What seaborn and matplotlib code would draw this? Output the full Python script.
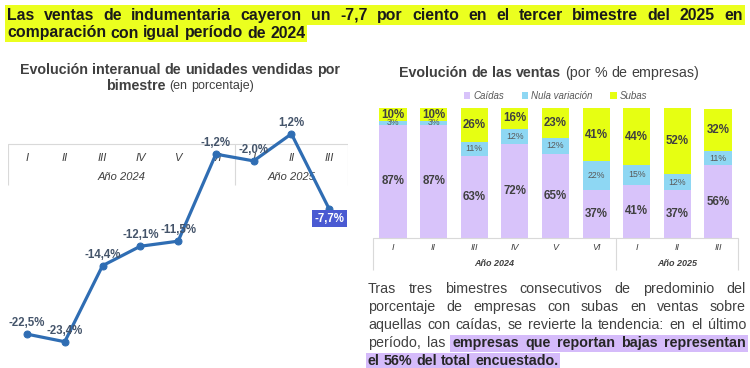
import matplotlib
matplotlib.use("Agg")
import pandas as pd
import matplotlib.pyplot as plt
from matplotlib import font_manager
from matplotlib.patches import Rectangle
import seaborn as sns

# ---- data -------------------------------------------------------------
bimestres = ["I", "II", "III", "IV", "V", "VI", "I", "II", "III"]
anios = ["2024"] * 6 + ["2025"] * 3
var_unidades = [-22.5, -23.4, -14.4, -12.1, -11.5, -1.2, -2.0, 1.2, -7.7]

caidas = [87, 87, 63, 72, 65, 37, 41, 37, 56]
nula = [3, 3, 11, 12, 12, 22, 15, 12, 11]
subas = [10, 10, 26, 16, 23, 41, 44, 52, 32]

titulo_l1 = "Las ventas de indumentaria cayeron un -7,7 por ciento en el tercer bimestre del 2025 en"
titulo_l2 = "comparación con igual período de 2024"
parrafo = [
    ("Tras tres bimestres consecutivos de predominio del", ""),
    ("porcentaje de empresas con subas en ventas sobre", ""),
    ("aquellas con caídas, se revierte la tendencia: en el último", ""),
    ("período, las", "empresas que reportan bajas representan"),
    ("", "el 56% del total encuestado."),
]

# ---- style ------------------------------------------------------------
W, H = 750, 368
LINE_C = "#2F6DB3"
LAB_C = "#44546A"
TXT_C = "#404040"
C_CAI = "#D8C3FA"
C_NUL = "#8ED7F3"
C_SUB = "#E6FF12"
HL_Y = "#EBFF1F"
HL_P = "#D5BBFA"


def installed(fam):
    try:
        font_manager.findfont(font_manager.FontProperties(family=fam), fallback_to_default=False)
        return True
    except ValueError:
        return False


REG = "Liberation Sans"
NARROW = "Liberation Sans Narrow" if installed("Liberation Sans Narrow") else REG
NAR = [NARROW, "DejaVu Sans"]
sns.set_theme(style="white")
plt.rcParams["font.family"] = [REG, "DejaVu Sans"]

fig = plt.figure(figsize=(W / 100, H / 100), dpi=100)
renderer = fig.canvas.get_renderer()


def width_px(s, **kw):
    t = fig.text(0, 0, s, **kw)
    w = t.get_window_extent(renderer).width
    t.remove()
    return w


def draw_words(tokens, y, x0, x1=None, align="left"):
    """tokens: list of (word, text kwargs); returns (start, end) px of each word"""
    ws = [width_px(w, **kw) for w, kw in tokens]
    kw0 = tokens[0][1]
    gap = width_px("a a", **kw0) - width_px("aa", **kw0)
    if align == "justify" and len(ws) > 1:
        gap = (x1 - x0 - sum(ws)) / (len(ws) - 1)
    total = sum(ws) + gap * (len(ws) - 1)
    x = x0 - total / 2 if align == "center" else x0
    spans = []
    for (w, kw), wd in zip(tokens, ws):
        fig.text(x / W, 1 - y / H, w, ha="left", va="center", **kw)
        spans.append((x, x + wd))
        x += wd + gap
    return spans


def box(x0, x1, y0, y1, color):
    fig.add_artist(Rectangle((x0 / W, 1 - y1 / H), (x1 - x0) / W, (y1 - y0) / H,
                             transform=fig.transFigure, color=color, zorder=0.5, lw=0))


# ---- headline ---------------------------------------------------------
tkw = dict(fontweight="bold", color="#1a1a1a", family=NAR)
fs_t = 10 * 297 / width_px(titulo_l2, fontsize=10, **tkw)
tkw["fontsize"] = fs_t
box(5, 745, 5, 25, HL_Y)
draw_words([(w, tkw) for w in titulo_l1.split()], 15.5, 7, 743, align="justify")
sp = draw_words([(w, tkw) for w in titulo_l2.split()], 33, 7)
box(5, sp[-1][1] + 2, 25, 42, HL_Y)

# ---- left chart titles ------------------------------------------------
hb = dict(fontweight="bold", color=TXT_C, fontsize=10.3)
hr = dict(color=TXT_C, fontsize=9)
draw_words([(w, hb) for w in "Evolución interanual de unidades vendidas por".split()], 70, 180, align="center")
draw_words([("bimestre", hb), ("(en", hr), ("porcentaje)", hr)], 86, 180, align="center")

# ---- line chart -------------------------------------------------------
PX_UNIT = 8.45  # pixels per percentage point
ZERO_Y = 144
top_px, bot_px = 120, 350
ax1 = fig.add_axes([8.1 / W, 1 - bot_px / H, 340 / W, (bot_px - top_px) / H])
df_line = pd.DataFrame({"pos": range(len(var_unidades)), "valor": var_unidades})
sns.lineplot(data=df_line, x="pos", y="valor", ax=ax1, color=LINE_C, lw=2.3,
             marker="o", markersize=5, markeredgecolor=LINE_C, zorder=3)
ax1.set_xlim(-0.5, 8.5)
ax1.set_ylim(-(bot_px - ZERO_Y) / PX_UNIT, (ZERO_Y - top_px) / PX_UNIT)
ax1.axis("off")

ax1.axhline(0, color="#d9d9d9", lw=0.8, zorder=1)
ax1.vlines([-0.5, 5.5, 8.5], -(185 - ZERO_Y) / PX_UNIT, 0, color="#d9d9d9", lw=0.8, zorder=1)
for i, b in enumerate(bimestres):
    ax1.annotate(b, (i, 0), xytext=(0, -14 * 0.72), textcoords="offset points",
                 ha="center", va="center", fontsize=8, style="italic", color=TXT_C, zorder=2)
for xc, a in [(2.5, "2024"), (7, "2025")]:
    ax1.annotate(f"Año {a}", (xc, 0), xytext=(0, -33 * 0.72), textcoords="offset points",
                 ha="center", va="center", fontsize=8, style="italic", color=TXT_C, zorder=2)

for i, v in enumerate(var_unidades):
    lab = f"{v:.1f}%".replace(".", ",")
    if i == len(var_unidades) - 1:
        ax1.annotate(lab, (i, v), xytext=(0, -9.5 * 0.72), textcoords="offset points",
                     ha="center", va="center", fontsize=8.3, fontweight="bold", color="white",
                     family=NAR, bbox=dict(boxstyle="square,pad=0.22", fc="#4A5AD2", ec="none"),
                     zorder=4)
    else:
        ax1.annotate(lab, (i, v), xytext=(0, 11 * 0.72), textcoords="offset points",
                     ha="center", va="center", fontsize=8.3, fontweight="bold", color=LAB_C,
                     family=NAR, zorder=4)

# ---- right chart title ------------------------------------------------
hr2 = dict(color=TXT_C, fontsize=10.3)
draw_words([(w, hb) for w in "Evolución de las ventas".split()] +
           [(w, hr2) for w in "(por % de empresas)".split()], 73, 549, align="center")

# ---- stacked bars -----------------------------------------------------
BAR_TOP, BAR_BOT = 108, 238
ax2 = fig.add_axes([372.7 / W, 1 - BAR_BOT / H, 365.6 / W, (BAR_BOT - BAR_TOP) / H])
keys = [f"{b} {a}" for b, a in zip(bimestres, anios)]
df_bar = pd.DataFrame({"periodo": keys, "Caídas": caidas, "Nula variación": nula, "Subas": subas})
df_bar["c_n"] = df_bar["Caídas"] + df_bar["Nula variación"]
df_bar["total"] = df_bar["c_n"] + df_bar["Subas"]

sns.barplot(data=df_bar, x="periodo", y="total", order=keys, color=C_SUB, saturation=1,
            width=0.67, linewidth=0, label="Subas", ax=ax2)
sns.barplot(data=df_bar, x="periodo", y="c_n", order=keys, color=C_NUL, saturation=1,
            width=0.67, linewidth=0, label="Nula variación", ax=ax2)
sns.barplot(data=df_bar, x="periodo", y="Caídas", order=keys, color=C_CAI, saturation=1,
            width=0.67, linewidth=0, label="Caídas", ax=ax2)
ax2.set_xlim(-0.5, 8.5)
ax2.set_ylim(0, 100)
ax2.axis("off")

for i, (c, n, s) in enumerate(zip(caidas, nula, subas)):
    ax2.text(i, c / 2, f"{c}%", ha="center", va="center", fontsize=8.3, fontweight="bold",
             color=TXT_C, family=NAR)
    ax2.text(i, c + n / 2, f"{n}%", ha="center", va="center", fontsize=6.3, color="#595959",
             family=NAR)
    ax2.text(i, c + n + s / 2, f"{s}%", ha="center", va="center", fontsize=8.3, fontweight="bold",
             color=TXT_C, family=NAR)

ax2.axhline(0, color="#d9d9d9", lw=0.8, clip_on=False)
ax2.vlines([-0.5, 5.5, 8.5], -32 / 1.3, 0, color="#d9d9d9", lw=0.8, clip_on=False)
for i, b in enumerate(bimestres):
    ax2.annotate(b, (i, 0), xytext=(0, -10 * 0.72), textcoords="offset points",
                 ha="center", va="center", fontsize=6.5, style="italic", color=TXT_C, annotation_clip=False)
for xc, a in [(2.5, "2024"), (7, "2025")]:
    ax2.annotate(f"Año {a}", (xc, 0), xytext=(0, -25 * 0.72), textcoords="offset points",
                 ha="center", va="center", fontsize=6.5, style="italic", fontweight="bold", color=TXT_C,
                 annotation_clip=False)

h, l = ax2.get_legend_handles_labels()
ax2.legend(h[::-1], l[::-1], ncol=3, loc="center", bbox_to_anchor=(0.5, 1 + 12 / 130),
           frameon=False, handlelength=0.7, handleheight=0.7, handletextpad=0.3,
           columnspacing=1.8, borderpad=0,
           prop=dict(family=REG, style="italic", size=7), labelcolor="#595959")

# ---- paragraph --------------------------------------------------------
pr = dict(fontsize=10.3, color=TXT_C)
pb = dict(fontsize=10.3, color="#262626", fontweight="bold")
y = 289
for k, (reg, bold) in enumerate(parrafo):
    toks = [(w, pr) for w in reg.split()] + [(w, pb) for w in bold.split()]
    last = k == len(parrafo) - 1
    spans = draw_words(toks, y, 368, 746, align="left" if last else "justify")
    if bold:
        nb = len(bold.split())
        box(spans[-nb][0] - 2, spans[-1][1] + 2, y - 8.5, y + 8.5, HL_P)
    y += 18

fig.savefig("out.png", dpi=100)
